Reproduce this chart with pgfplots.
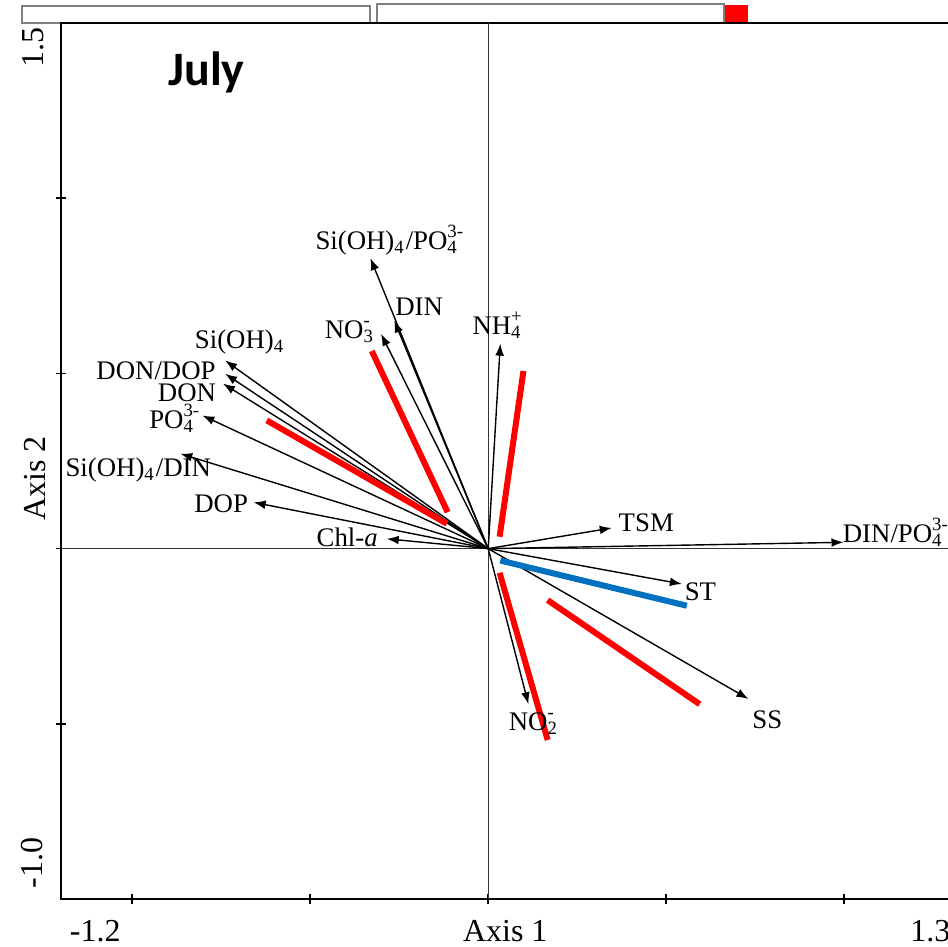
\documentclass[border=0pt]{standalone}
\usepackage{pgfplots}
\pgfplotsset{compat=1.18}
\usetikzlibrary{arrows.meta}
\usepackage{fontspec}
\setmainfont{Liberation Serif}
\newfontfamily\julyfont{Carlito}
\definecolor{hlred}{RGB}{255,0,0}
\definecolor{hlblue}{RGB}{0,112,192}
\newcommand{\subsup}[2]{\rlap{\textsubscript{#1}}\textsuperscript{#2}}
\tikzset{
 vec/.style={-{Latex[length=3pt,width=2.2pt]}, line width=0.35pt, black},
 hl/.style={line width=1.5pt, hlred},
 lab/.style={font=\fontsize{6.7}{7}\selectfont, inner sep=0pt},
 tl/.style={font=\fontsize{8}{9}\selectfont, inner sep=0pt},
}
\begin{document}
\begin{tikzpicture}
% remnants of neighbouring panels at the top
\draw[gray, line width=0.4pt, fill=white] (-9.75pt,219pt) rectangle (77.25pt,223.25pt);
\draw[gray, line width=0.4pt, fill=white] (79pt,219pt) rectangle (165.75pt,223.75pt);
\fill[hlred] (166pt,219.25pt) rectangle (171.75pt,223.5pt);
\begin{axis}[
 at={(0,0)}, anchor=south west,
 scale only axis, width=222.5pt, height=219pt,
 xmin=-1.2, xmax=1.3, ymin=-1, ymax=1.5,
 xtick={-1,-0.5,0,0.5,1}, ytick={-0.5,0,0.5,1},
 xticklabels={}, yticklabels={},
 tick align=center, xtick pos=bottom, ytick pos=left,
 major tick length=2.5pt,
 tick style={black, line width=0.4pt},
 axis line style={black, line width=0.5pt},
 clip=false,
]
% zero lines
\addplot[black!80, line width=0.25pt] coordinates {(0,-1) (0,1.5)};
\addplot[black!80, line width=0.25pt] coordinates {(-1.2,0) (1.3,0)};
% biplot vectors
\addplot[vec] coordinates {(0,0) (-0.331,0.829)}; % Si(OH)4/PO4
\addplot[vec] coordinates {(0,0) (-0.264,0.651)}; % DIN
\addplot[vec] coordinates {(0,0) (-0.301,0.613)}; % NO3
\addplot[vec] coordinates {(0,0) (-0.739,0.537)}; % Si(OH)4
\addplot[vec] coordinates {(0,0) (-0.739,0.499)}; % DON/DOP
\addplot[vec] coordinates {(0,0) (-0.745,0.471)}; % DON
\addplot[vec] coordinates {(0,0) (-0.803,0.380)}; % PO4
\addplot[vec] coordinates {(0,0) (-0.865,0.271)}; % Si(OH)4/DIN
\addplot[vec] coordinates {(0,0) (-0.659,0.132)}; % DOP
\addplot[vec] coordinates {(0,0) (-0.285,0.028)}; % Chl-a
\addplot[vec] coordinates {(0,0) (0.034,0.585)}; % NH4
\addplot[vec] coordinates {(0,0) (0.347,0.059)}; % TSM
\addplot[vec] coordinates {(0,0) (0.998,0.018)}; % DIN/PO4
\addplot[vec] coordinates {(0,0) (0.544,-0.101)}; % ST
\addplot[vec] coordinates {(0,0) (0.731,-0.429)}; % SS
\addplot[vec] coordinates {(0,0) (0.113,-0.444)}; % NO2
% highlight lines
\addplot[hl] coordinates {(-0.622,0.366) (-0.116,0.071)};
\addplot[hl] coordinates {(-0.327,0.564) (-0.114,0.104)};
\addplot[hl] coordinates {(0.099,0.507) (0.032,0.034)};
\addplot[hl, hlblue] coordinates {(0.034,-0.034) (0.558,-0.163)};
\addplot[hl] coordinates {(0.032,-0.069) (0.167,-0.546)};
\addplot[hl] coordinates {(0.167,-0.147) (0.594,-0.444)};
% vector labels
\node[lab] at (axis cs:-0.275,0.880) {Si(OH)\textsubscript{4}/PO\subsup{4}{3-}};
\node[lab] at (axis cs:-0.194,0.689) {DIN};
\node[lab] at (axis cs:-0.393,0.620) {NO\subsup{3}{-}};
\node[lab] at (axis cs:0.028,0.637) {NH\subsup{4}{+}};
\node[lab] at (axis cs:-0.697,0.589) {Si(OH)\textsubscript{4}};
\node[lab] at (axis cs:-0.933,0.509) {DON/DOP};
\node[lab] at (axis cs:-0.846,0.446) {DON};
\node[lab] at (axis cs:-0.879,0.371) {PO\subsup{4}{3-}};
\node[lab] at (axis cs:-0.983,0.223) {Si(OH)\textsubscript{4}/DIN};
\node[lab] at (axis cs:-0.750,0.129) {DOP};
\node[lab] at (axis cs:-0.396,0.031) {Chl-\textit{a}};
\node[lab] at (axis cs:0.444,0.074) {TSM};
\node[lab, anchor=west] at (axis cs:0.994,0.046) {DIN/PO\subsup{4}{3-}};
\node[lab] at (axis cs:0.596,-0.123) {ST};
\node[lab] at (axis cs:0.784,-0.489) {SS};
\node[lab] at (axis cs:0.124,-0.500) {NO\subsup{2}{-}};
% axis tick labels and titles
\node[tl] at (axis cs:-1.104,-1.091) {-1.2};
\node[tl] at (axis cs:1.242,-1.091) {1.3};
\node[tl] at (axis cs:0.048,-1.091) {Axis 1};
\node[tl, rotate=90] at (axis cs:-1.278,1.429) {1.5};
\node[tl, rotate=90] at (axis cs:-1.281,-0.897) {-1.0};
\node[tl, rotate=90] at (axis cs:-1.272,0.200) {Axis 2};
\node[font=\julyfont\bfseries\fontsize{12}{13}\selectfont, inner sep=0pt] at (axis cs:-0.791,1.360) {July};
\end{axis}
\pgfresetboundingbox
\path[use as bounding box] (-15.25pt,-11.75pt) rectangle (221.75pt,224.75pt);
\end{tikzpicture}
\end{document}
